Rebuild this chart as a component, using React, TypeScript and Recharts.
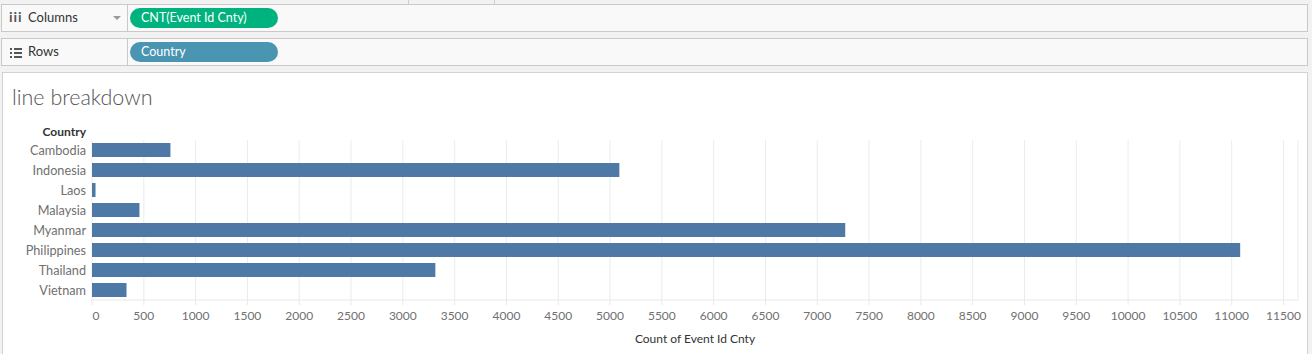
import React from "react";
import { BarChart, Bar, XAxis, YAxis, CartesianGrid, Label } from "recharts";

const countries = ["Cambodia", "Indonesia", "Laos", "Malaysia", "Myanmar", "Philippines", "Thailand", "Vietnam"];
const counts = [757, 5090, 34, 458, 7270, 11082, 3314, 333];
const xTicks = [0, 500, 1000, 1500, 2000, 2500, 3000, 3500, 4000, 4500, 5000, 5500, 6000, 6500, 7000, 7500, 8000, 8500, 9000, 9500, 10000, 10500, 11000, 11500];
const chartTitle = "line breakdown";
const xAxisTitle = "Count of Event Id Cnty";
const rowHeader = "Country";
const columnsPill = "CNT(Event Id Cnty)";
const rowsPill = "Country";

const data = countries.map((c, i) => ({ country: c, value: counts[i] }));

const FONT = "Lato, 'Open Sans', sans-serif";

const XTick = (props: any) => {
  const { x, y, payload } = props;
  const dx = payload.value === 0 ? 4 : 0;
  return (
    <text x={x + dx} y={y + 13} textAnchor="middle" fill="#707070" fontSize={12} fontFamily={FONT}>
      {payload.value}
    </text>
  );
};

const YTick = (props: any) => {
  const { x, y, payload } = props;
  return (
    <text x={x} y={y + 4.5} textAnchor="end" fill="#707070" fontSize={12.7} fontFamily={FONT}>
      {payload.value}
    </text>
  );
};

const ShelfIconRows = () => (
  <div style={{ position: "absolute", left: 8, top: 9, width: 12, height: 10 }}>
    {[0, 4, 8].map((t) => (
      <React.Fragment key={t}>
        <div style={{ position: "absolute", left: 0, top: t, width: 2, height: 2, background: "#555" }} />
        <div style={{ position: "absolute", left: 4, top: t, width: 8, height: 2, background: "#555" }} />
      </React.Fragment>
    ))}
  </div>
);

export default function App() {
  return (
    <div
      style={{
        position: "fixed",
        left: 0,
        top: 0,
        width: 1312,
        height: 354,
        background: "#f2f2f2",
        fontFamily: FONT,
        overflow: "hidden",
      }}
    >
      <div style={{ position: "absolute", left: 408, top: 0, width: 1, height: 4, background: "#cfcfcf" }} />
      <div style={{ position: "absolute", left: 494, top: 0, width: 1, height: 4, background: "#cfcfcf" }} />

      <div
        style={{
          position: "absolute",
          left: 1,
          top: 4,
          width: 1305,
          height: 26,
          background: "#f9f9f9",
          border: "1px solid #c9c9c9",
        }}
      >
        <div style={{ position: "absolute", left: 7, top: 3, fontSize: 14, fontWeight: 700, color: "#555", letterSpacing: 1 }}>iii</div>
        <div style={{ position: "absolute", left: 26, top: 4, fontSize: 13, color: "#333" }}>Columns</div>
        <div
          style={{
            position: "absolute",
            left: 111,
            top: 11,
            width: 0,
            height: 0,
            borderLeft: "4px solid transparent",
            borderRight: "4px solid transparent",
            borderTop: "4px solid #9a9a9a",
          }}
        />
        <div style={{ position: "absolute", left: 125, top: 0, width: 1, height: 26, background: "#c9c9c9" }} />
        <div
          style={{
            position: "absolute",
            left: 128,
            top: 3,
            width: 148,
            height: 20,
            borderRadius: 10,
            background: "#00b37e",
            color: "#fff",
            fontSize: 12.5,
            lineHeight: "20px",
            paddingLeft: 11,
            boxSizing: "border-box",
          }}
        >
          {columnsPill}
        </div>
      </div>

      <div
        style={{
          position: "absolute",
          left: 1,
          top: 38,
          width: 1305,
          height: 26,
          background: "#f9f9f9",
          border: "1px solid #c9c9c9",
        }}
      >
        <ShelfIconRows />
        <div style={{ position: "absolute", left: 26, top: 4, fontSize: 13, color: "#333" }}>Rows</div>
        <div style={{ position: "absolute", left: 125, top: 0, width: 1, height: 26, background: "#c9c9c9" }} />
        <div
          style={{
            position: "absolute",
            left: 128,
            top: 3,
            width: 148,
            height: 20,
            borderRadius: 10,
            background: "#4a96b2",
            color: "#fff",
            fontSize: 12.5,
            lineHeight: "20px",
            paddingLeft: 11,
            boxSizing: "border-box",
          }}
        >
          {rowsPill}
        </div>
      </div>

      <div
        style={{
          position: "absolute",
          left: 2,
          top: 72,
          width: 1304,
          height: 290,
          background: "#ffffff",
          border: "1px solid #d2d2d2",
        }}
      />
      <div
        style={{
          position: "absolute",
          left: 12,
          top: 84,
          fontSize: 21.5,
          fontWeight: 300,
          color: "#555",
          whiteSpace: "nowrap",
        }}
      >
        {chartTitle}
      </div>
      <div
        style={{
          position: "absolute",
          left: 0,
          width: 86,
          top: 124,
          textAlign: "right",
          fontSize: 12,
          fontWeight: 700,
          color: "#333",
        }}
      >
        {rowHeader}
      </div>

      <div style={{ position: "absolute", left: 0, top: 0 }}>
        <BarChart
          width={1312}
          height={354}
          data={data}
          layout="vertical"
          margin={{ top: 140, right: 14, bottom: 0, left: 0 }}
          barCategoryGap={2.75}
        >
          <CartesianGrid horizontal={false} vertical={true} stroke="#ececec" strokeWidth={1} />
          <XAxis
            type="number"
            domain={[0, 11640]}
            ticks={xTicks}
            interval={0}
            allowDataOverflow={true}
            axisLine={{ stroke: "#e8e8e8" }}
            tickLine={{ stroke: "#e8e8e8" }}
            tickSize={5}
            tick={<XTick />}
            height={54}
          >
            <Label
              value={xAxisTitle}
              position="insideTop"
              offset={34}
              style={{ fontSize: 12, fill: "#333", fontFamily: FONT }}
            />
          </XAxis>
          <YAxis
            type="category"
            dataKey="country"
            width={92}
            axisLine={false}
            tickLine={false}
            tickSize={0}
            tickMargin={6}
            tick={<YTick />}
            interval={0}
          />
          <Bar dataKey="value" fill="#4e79a7" isAnimationActive={false} barSize={14} />
        </BarChart>
      </div>
    </div>
  );
}
